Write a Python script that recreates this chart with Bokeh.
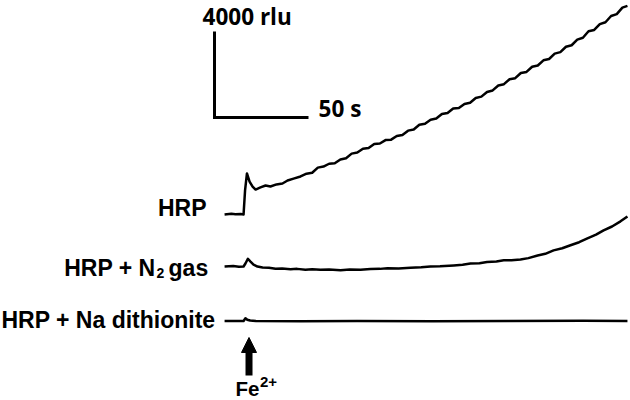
from bokeh.plotting import figure
from bokeh.models import Range1d, Arrow, NormalHead
from bokeh.core.properties import value
from bokeh.embed import file_html
from bokeh.resources import INLINE

# ---------------- data (time in s relative to Fe2+ addition, signal in rlu above baseline) -------------
hrp_t = [-10.6, -7.0, -4.8, -2.0, -0.5, 0.3, 1.3, 2.7, 4.3, 5.9, 8.5, 11.2, 13.8, 17.0, 20.2, 22.9,
         26.1, 29.8, 33, 36, 39, 42, 45, 48, 51, 54, 57, 60, 63, 66, 69, 72, 75, 78, 81, 84, 87,
         90, 93, 96, 99, 102, 105, 108, 111, 114, 117, 120, 123, 126, 129, 132, 135, 138, 141,
         144, 147, 150, 153, 156, 159, 162, 165, 168, 171, 174, 177, 180, 183, 186, 189, 192,
         195, 198, 201, 203.7]
hrp_rlu = [0, 30, 10, 20, 0, 1120, 1910, 1530, 1300, 1160, 1260, 1350, 1300, 1400, 1440, 1580,
           1670, 1770, 1900, 1940, 2180, 2230, 2360, 2380, 2560, 2620, 2830, 2880, 3060, 3090,
           3280, 3300, 3460, 3480, 3650, 3700, 3900, 3950, 4170, 4220, 4410, 4460, 4670, 4720,
           4930, 4950, 5140, 5200, 5420, 5480, 5700, 5770, 6000, 6060, 6290, 6340, 6580, 6630,
           6870, 6930, 7170, 7230, 7480, 7550, 7800, 7870, 8130, 8220, 8520, 8580, 8850, 8940,
           9230, 9320, 9620, 9700]

n2_t = [-10.6, -6.0, -3.0, -0.5, 0.5, 1.8, 3.2, 4.8, 6.9, 9.6, 13.0, 16.5, 20.0, 24.5, 28.0, 32.4,
        36.0, 40.4, 45.0, 51.1, 56.0, 61.7, 67.0, 72.0, 76.1, 82.0, 88.3, 94.0, 98.9, 104.0,
        111.3, 116.0, 120.2, 125.0, 129.0, 134.0, 137.9, 142.0, 146.8, 151.0, 155.9, 160.0,
        164.4, 169.0, 173.4, 178.0, 182.4, 187.0, 191.0, 195.5, 200.0, 203.7]
n2_rlu = [0, 20, -10, 0, 140, 360, 230, 90, 0, -50, -60, -100, -90, -130, -110, -150,
          -130, -150, -140, -170, -140, -150, -120, -110, -80, -90, -60, -40, 0, 10,
          50, 80, 140, 150, 210, 230, 290, 290, 330, 390, 510, 590,
          750, 850, 990, 1130, 1310, 1480, 1680, 1860, 2100, 2330]

dith_t = [-10.6, -4.0, -0.5, 0.5, 1.5, 3.0, 6.0, 30.0, 60.0, 100.0, 140.0, 180.0, 203.7]
dith_rlu = [0, 0, 0, 130, 60, 20, 0, -10, 0, -10, 0, 10, 0]

trace_labels = ["HRP", "HRP + N", "2", "gas", "HRP + Na dithionite"]
scale_t = 50        # s
scale_rlu = 4000    # rlu
scale_labels = ["4000 rlu", "50 s"]
fe_label = ["Fe", "2+"]

# ---------------- layout constants -------------
off_hrp, off_n2, off_dith = 4952, 2534, 0
bar_x0, bar_y0 = -15.96, 9463
arrow_t = 2.4

p = figure(width=630, height=400, output_backend="svg", toolbar_location=None,
           x_axis_type=None, y_axis_type=None, min_border=0,
           x_range=Range1d(-129.79, 205.32), y_range=Range1d(-3696.75, 14903.25))
p.outline_line_color = None
p.grid.visible = False
p.background_fill_color = "white"

lw = 2.5
p.line(hrp_t, [v + off_hrp for v in hrp_rlu], line_color="black", line_width=lw, line_join="round")
p.line(n2_t, [v + off_n2 for v in n2_rlu], line_color="black", line_width=lw, line_join="round")
p.line(dith_t, [v + off_dith for v in dith_rlu], line_color="black", line_width=lw, line_join="round")

# scale bar
p.line([bar_x0, bar_x0, bar_x0 + scale_t], [bar_y0 + scale_rlu, bar_y0, bar_y0],
       line_color="black", line_width=3, line_join="miter")

lab_font = value("Liberation Sans")
# right aligned labels
p.text(x=[-20.2, -47.3, -15.4], y=[4906, 2162, -302],
       text=[trace_labels[0], trace_labels[1], trace_labels[4]],
       text_font=lab_font, text_font_style="bold", text_font_size="23px",
       text_align="right", text_baseline="alphabetic", text_color="black", y_offset=-7)
# "gas"
p.text(x=[-40.4], y=[2162], text=[trace_labels[3]],
       text_font=lab_font, text_font_style="bold", text_font_size="23px",
       text_align="left", text_baseline="alphabetic", text_color="black", y_offset=-7)
# subscript 2
p.text(x=[-46.8], y=[2000], text=[trace_labels[2]],
       text_font=lab_font, text_font_style="bold", text_font_size="14px",
       text_align="left", text_baseline="alphabetic", text_color="black", y_offset=-4.5)

# Fe2+
p.text(x=[-4.8], y=[-3464], text=[fe_label[0]],
       text_font=lab_font, text_font_style="bold", text_font_size="20.5px",
       text_align="left", text_baseline="alphabetic", text_color="black", y_offset=-6.5)
p.text(x=[8.2], y=[-3046], text=[fe_label[1]],
       text_font=lab_font, text_font_style="bold", text_font_size="15px",
       text_align="left", text_baseline="alphabetic", text_color="black", y_offset=-5)

# scale labels
p.text(x=[-22.3], y=[13764], text=[scale_labels[0]],
       text_font=value("Open Sans"), text_font_style="bold", text_font_size="22.5px",
       text_align="left", text_baseline="alphabetic", text_color="black", y_offset=-8.5)
p.text(x=[39.4], y=[9509], text=[scale_labels[1]],
       text_font=value("Open Sans"), text_font_style="bold", text_font_size="22.5px",
       text_align="left", text_baseline="alphabetic", text_color="black", y_offset=-8.5)

p.add_layout(Arrow(end=NormalHead(size=15, fill_color="black", line_color="black", line_width=1),
                   x_start=arrow_t, y_start=-2534, x_end=arrow_t, y_end=-767,
                   line_width=7, line_color="black"))

open("out.html", "w").write(file_html(p, INLINE))
